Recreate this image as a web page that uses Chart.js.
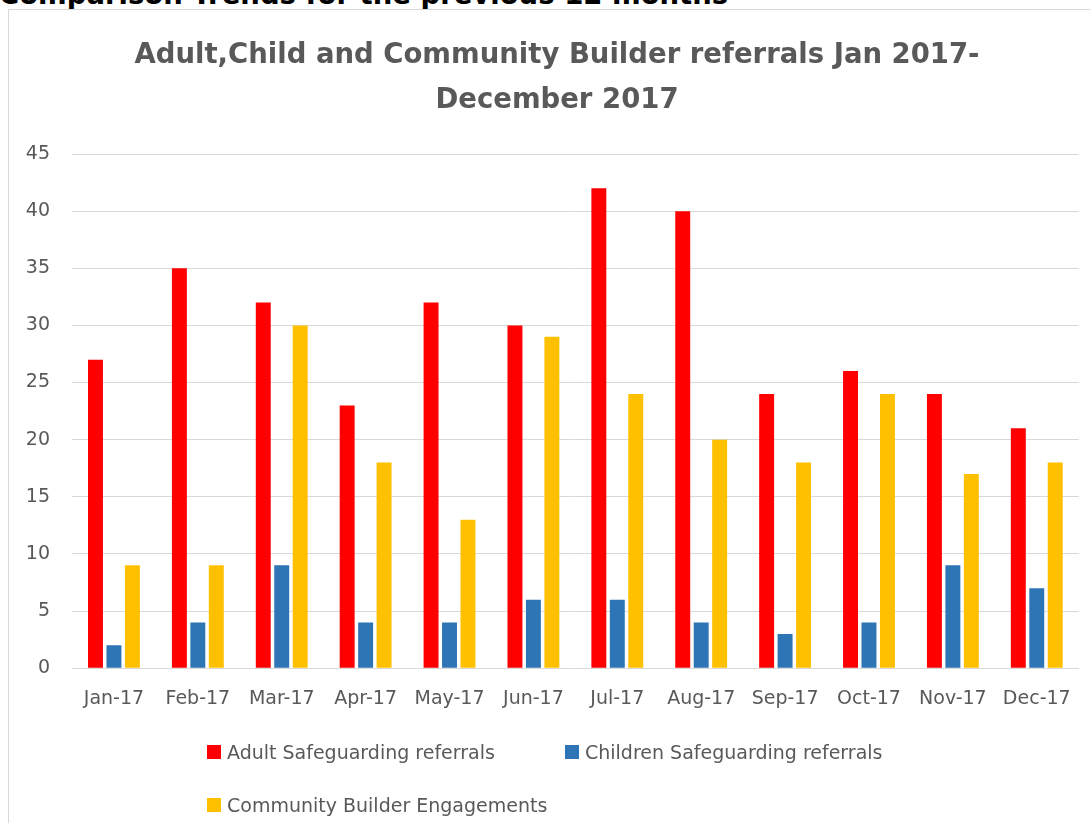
<!DOCTYPE html>
<html>
<head>
<meta charset="utf-8">
<script src="https://cdn.jsdelivr.net/npm/chart.js@4.4.1/dist/chart.umd.min.js"></script>
<style>
  html, body { margin: 0; padding: 0; background: #fff; overflow: hidden; }
  body { width: 1090px; height: 823px; position: relative; font-family: 'DejaVu Sans', sans-serif; }
  #heading { position: absolute; left: -1px; top: -22px; font-weight: bold; font-size: 27.5px; color: #000; white-space: nowrap; }
  #frame { position: absolute; left: 8px; top: 9px; width: 1100px; height: 830px; border: 1px solid #d9d9d9; background: #fff; }
  #wrap { position: absolute; left: 9px; top: 10px; width: 1081px; height: 813px; }
  #legend { position: absolute; left: 207px; top: 741px; width: 720px; font-size: 19px; color: #595959; }
  .item { position: absolute; white-space: nowrap; display: flex; align-items: center; }
  .box { width: 14px; height: 14px; margin-right: 6px; }
</style>
</head>
<body>
<div id="heading">Comparison Trends for the previous 12 months</div>
<div id="frame"></div>
<div id="wrap"><canvas id="chart"></canvas></div>
<div id="legend"></div>
<script>
const months = ['Jan-17', 'Feb-17', 'Mar-17', 'Apr-17', 'May-17', 'Jun-17', 'Jul-17', 'Aug-17', 'Sep-17', 'Oct-17', 'Nov-17', 'Dec-17'];
const adultReferrals = [27, 35, 32, 23, 32, 30, 42, 40, 24, 26, 24, 21];
const childrenReferrals = [2, 4, 9, 4, 4, 6, 6, 4, 3, 4, 9, 7];
const communityEngagements = [9, 9, 30, 18, 13, 29, 24, 20, 18, 24, 17, 18];
const seriesNames = ['Adult Safeguarding referrals', 'Children Safeguarding referrals', 'Community Builder Engagements'];
const seriesColors = ['#ff0000', '#2e75b6', '#ffc000'];

const textColor = '#595959';
const gridColor = '#d9d9d9';

// the original title sits a little right of the canvas centre
const shiftTitle = {
  id: 'shiftTitle',
  afterLayout: function (chart) {
    if (chart.titleBlock) {
      chart.titleBlock.left += 23;
    }
  }
};

const ctx = document.getElementById('chart');
const chart = new Chart(ctx, {
  type: 'bar',
  data: {
    labels: months,
    datasets: [
      { label: seriesNames[0], data: adultReferrals, backgroundColor: seriesColors[0] },
      { label: seriesNames[1], data: childrenReferrals, backgroundColor: seriesColors[1] },
      { label: seriesNames[2], data: communityEngagements, backgroundColor: seriesColors[2] }
    ]
  },
  options: {
    responsive: true,
    maintainAspectRatio: false,
    animation: false,
    datasets: {
      bar: { categoryPercentage: 0.66, barPercentage: 0.81 }
    },
    layout: {
      padding: { left: 0, right: 8, top: 0, bottom: 94 }
    },
    plugins: {
      legend: { display: false },
      tooltip: { enabled: false },
      title: {
        display: true,
        text: ['Adult,Child and Community Builder referrals Jan 2017-', 'December 2017'],
        color: textColor,
        font: { family: 'DejaVu Sans', size: 27.5, weight: 'bold', lineHeight: '45px' },
        padding: { top: 23, bottom: 31 }
      }
    },
    scales: {
      x: {
        grid: { display: false, drawTicks: false },
        border: { color: gridColor, width: 1 },
        ticks: {
          color: textColor,
          font: { family: 'DejaVu Sans', size: 19 },
          padding: 19,
          maxRotation: 0,
          autoSkip: false
        }
      },
      y: {
        min: 0,
        max: 45,
        afterFit: function (scale) {
          // fixed axis width so the plot starts where the reference does
          scale.width = 63;
        },
        grid: { color: gridColor, lineWidth: 1, drawTicks: false },
        border: { display: false },
        ticks: {
          stepSize: 5,
          color: textColor,
          font: { family: 'DejaVu Sans', size: 19 },
          padding: 22
        }
      }
    }
  },
  plugins: [shiftTitle]
});

// legend laid out like the original: two items on the first row, one on the second
const legendPos = [[0, 0], [358, 0], [0, 53]];
const legend = document.getElementById('legend');
chart.data.datasets.forEach(function (ds, i) {
  const item = document.createElement('div');
  item.className = 'item';
  item.style.left = legendPos[i][0] + 'px';
  item.style.top = legendPos[i][1] + 'px';
  item.innerHTML = '<span class="box" style="background:' + ds.backgroundColor + '"></span>' + ds.label;
  legend.appendChild(item);
});
</script>
</body>
</html>
